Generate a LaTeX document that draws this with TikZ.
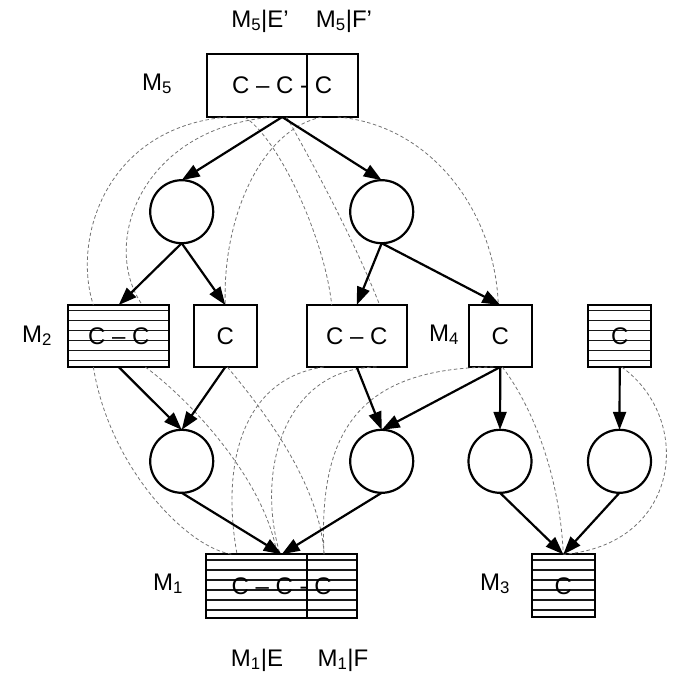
\documentclass[tikz,border=0pt]{standalone}
\usepackage{fontspec}
\setmainfont{Liberation Sans}
\usetikzlibrary{arrows.meta,calc}
\begin{document}
\begin{tikzpicture}[x=1pt,y=-1pt,
  box/.style={draw,line width=2.2pt,rectangle,inner sep=0pt,outer sep=0pt,minimum height=62pt,font=\fontsize{24}{28}\selectfont},
  hatched/.style={path picture={\foreach \k in {5.7,15.7,25.7,35.7,45.7,55.7}{\draw[line width=1.2pt,black!90] ([yshift=-\k pt]path picture bounding box.north west) -- ([yshift=-\k pt]path picture bounding box.north east);}}},
  circ/.style={draw,circle,line width=2.2pt,minimum size=63pt,inner sep=0pt,outer sep=0pt},
  arr/.style={line width=2.2pt,-{Triangle[length=18pt,width=13pt]}},
  dep/.style={black!55,line width=0.8pt,dash pattern=on 3.5pt off 2.5pt},
  lab/.style={anchor=base,font=\fontsize{24}{28}\selectfont,inner sep=0pt},
  divider/.style={line width=1.8pt}
]
\useasboundingbox (0,0) rectangle (685,675);

% top box
\node[box,minimum width=151pt,minimum height=63pt] (M5) at (282.2,85.5) {C -- C - C};
\draw[divider] ([xshift=100pt]M5.north west) -- ([xshift=100pt]M5.south west);

% row 1 circles
\node[circ] (c1) at (181.7,211.7) {};
\node[circ] (c2) at (381.7,211.7) {};

% row 2 boxes
\node[box,hatched,minimum width=100.7pt] (M2) at (118.7,336) {C -- C};
\node[box,minimum width=62.7pt] (Cb) at (225.3,336) {C};
\node[box,minimum width=100pt] (CC) at (356.7,336) {C -- C};
\node[box,minimum width=62.7pt] (M4) at (500.3,336) {C};
\node[box,hatched,minimum width=62.7pt] (Ch) at (619.7,336) {C};

% row 3 circles
\node[circ] (d1) at (181.7,461.3) {};
\node[circ] (d2) at (381.7,461.3) {};
\node[circ] (d3) at (500,461.3) {};
\node[circ] (d4) at (619.5,461.3) {};

% bottom boxes
\node[box,hatched,minimum width=151.3pt,minimum height=64pt] (M1) at (281.7,586.3) {C -- C - C};
\draw[divider] ([xshift=100.7pt]M1.north west) -- ([xshift=100.7pt]M1.south west);
\node[box,hatched,minimum width=63.3pt,minimum height=63pt] (M3) at (563.3,585.8) {C};

% dashed dependency curves (top)
\draw[dep] ([xshift=20pt]M5.south west) .. controls (105,128) and (72,240) .. ([xshift=25pt]M2.north west);
\draw[dep] ([xshift=66pt]M5.south west) .. controls (140,128) and (100,245) .. ([xshift=74pt]M2.north west);
\draw[dep] ([xshift=115pt]M5.south west) .. controls (260,130) and (222,220) .. (Cb.north);
\draw[dep] ([xshift=38pt]M5.south west) .. controls (280,140) and (325,240) .. ([xshift=25pt]CC.north west);
\draw[dep] ([xshift=80pt]M5.south west) .. controls (305,150) and (350,230) .. ([xshift=73pt]CC.north west);
\draw[dep] ([xshift=131pt]M5.south west) .. controls (430,125) and (495,210) .. ([xshift=-2pt]M4.north);

% dashed dependency curves (bottom)
\draw[dep] ([xshift=25pt]M2.south west) .. controls (110,470) and (190,550) .. ([xshift=27pt]M1.north west);
\draw[dep] ([xshift=77pt]M2.south west) .. controls (190,400) and (265,480) .. ([xshift=71pt]M1.north west);
\draw[dep] ([xshift=2pt]Cb.south) .. controls (255,400) and (320,480) .. ([xshift=118pt]M1.north west);
\draw[dep] ([xshift=17pt]CC.south west) .. controls (245,378) and (220,460) .. ([xshift=31pt]M1.north west);
\draw[dep] ([xshift=70pt]CC.south west) .. controls (285,368) and (255,470) .. ([xshift=74pt]M1.north west);
\draw[dep] ([xshift=-7pt]M4.south) .. controls (360,368) and (318,430) .. ([xshift=118pt]M1.north west);
\draw[dep] ([xshift=2pt]M4.south) .. controls (535,410) and (560,480) .. (M3.north);
\draw[dep] ([xshift=2pt]Ch.south) .. controls (695,420) and (680,545) .. (M3.north);

% solid arrows
\draw[arr] (M5.south) -- (c1.north);
\draw[arr] (M5.south) -- (c2.north);
\draw[arr] (c1.south) -- (M2.north);
\draw[arr] (c1.south) -- (Cb.north);
\draw[arr] (c2.south) -- (CC.north);
\draw[arr] (c2.south) -- (M4.north);
\draw[arr] (M2.south) -- (d1.north);
\draw[arr] (Cb.south) -- (d1.north);
\draw[arr] (CC.south) -- (d2.north);
\draw[arr] (M4.south) -- (d2.north);
\draw[arr] (M4.south) -- (d3.north);
\draw[arr] (Ch.south) -- (d4.north);
\draw[arr] (d1.south) -- (M1.north);
\draw[arr] (d2.south) -- (M1.north);
\draw[arr] (d3.south) -- (M3.north);
\draw[arr] (d4.south) -- (M3.north);

% labels
\node[lab] (t1) at (260,27) {M\textsubscript{5}|E'};
\node[lab] (t2) at (344,27) {M\textsubscript{5}|F'};
\node[lab] (l5) at (157,90) {M\textsubscript{5}};
\node[lab] (l2) at (37,342) {M\textsubscript{2}};
\node[lab] (l4) at (444,341) {M\textsubscript{4}};
\node[lab] (l1) at (168,590) {M\textsubscript{1}};
\node[lab] (l3) at (495,590) {M\textsubscript{3}};
\node[lab] (b1) at (257,666) {M\textsubscript{1}|E};
\node[lab] (b2) at (343,666) {M\textsubscript{1}|F};
\end{tikzpicture}
\end{document}
